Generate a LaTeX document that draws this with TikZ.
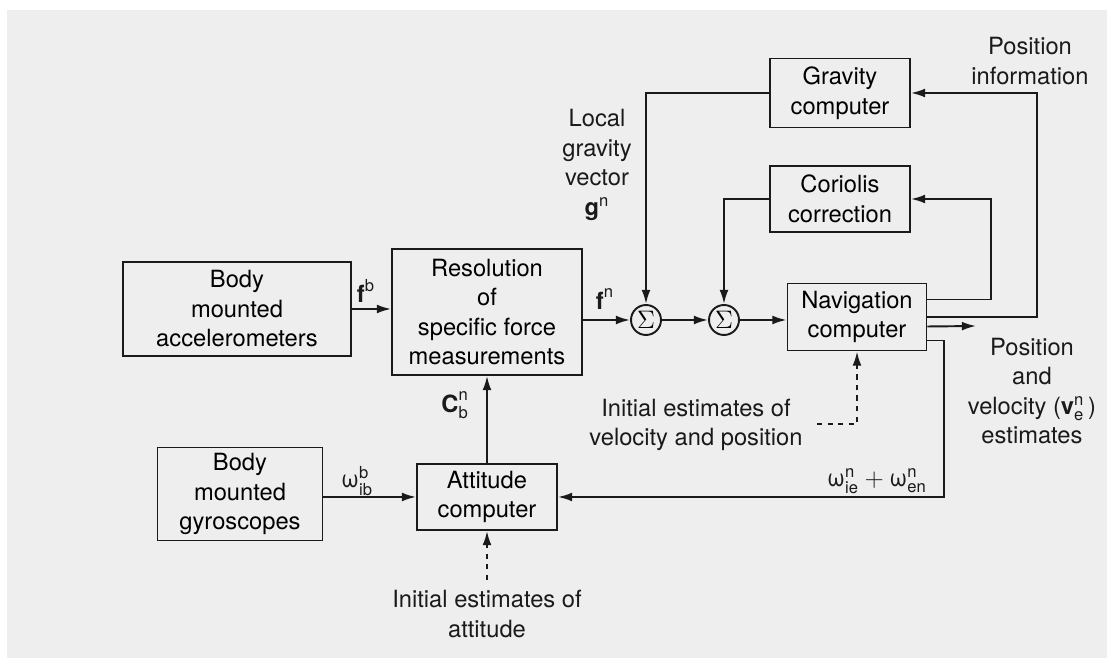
\documentclass[tikz,border=0pt]{standalone}
\usepackage{fontspec}
\usepackage{amsmath}
\setmainfont{TeX Gyre Heros}
\usetikzlibrary{arrows.meta}
\definecolor{paper}{HTML}{EEEEEE}
\definecolor{ink}{HTML}{1A1A1A}
\tikzset{
    >={Latex[length=8pt,width=5pt]},
    every edge/.style={draw,->,ink}
}

\begin{document}
\begin{tikzpicture}[x=0.02cm,y=-0.02cm,line width=1.1pt,
                    font=\fontsize{13.5}{16.8}\selectfont,
                    block/.style={draw=ink,rectangle,align=center,inner sep=2pt},
                    sum/.style={draw=ink,circle,minimum size=0.6cm,inner sep=0pt},
                    txt/.style={align=center,text=ink}]

% Paper
\useasboundingbox (0,0) rectangle (1107,658);
\fill[paper] (7,10) rectangle (1107,658);

% Blocks
\node[block,minimum width=4.56cm,minimum height=1.88cm] (acc) at (237,309) {Body\\mounted\\accelerometers};
\node[block,minimum width=3.80cm,minimum height=2.52cm] (res) at (487,312) {Resolution\\of\\specific force\\measurements};
\node[block,minimum width=2.80cm,minimum height=1.38cm] (grav) at (840,93) {Gravity\\computer};
\node[block,minimum width=2.80cm,minimum height=1.32cm] (cor) at (840,199) {Coriolis\\correction};
\node[block,minimum width=2.78cm,minimum height=1.34cm] (nav) at (857,317) {Navigation\\computer};
\node[block,minimum width=2.80cm,minimum height=1.32cm] (att) at (487,497) {Attitude\\computer};
\node[block,minimum width=3.30cm,minimum height=1.86cm] (gyro) at (240,494) {Body\\mounted\\gyroscopes};
\node[sum] (s1) at (646,320) {$\Sigma$};
\node[sum] (s2) at (724,320) {$\Sigma$};

% Free ends and corners
\coordinate (gravx) at (1037,93);
\coordinate (corx) at (991,199);
\coordinate (attx) at (944,497);
\coordinate (out) at (976,326);
\coordinate (navinit) at (817,424);
\coordinate (attinit) at (487,580);

% Labels
\node[txt] (fb) at (366,291) {$\textbf{f}^{\text{b}}$};
\node[txt] (fn) at (605,299) {$\textbf{f}^{\text{n}}$};
\node[txt] (cbn) at (455,405) {$\textbf{C}^{\text{n}}_{\text{b}}$};
\node[txt] (wib) at (357,481) {$\text{ω}^{\text{b}}_{\text{ib}}$};
\node[txt] (wnav) at (877,481) {$\text{ω}^{\text{n}}_{\text{ie}}+\text{ω}^{\text{n}}_{\text{en}}$};
\node[txt] (gn) at (597,165) {Local\\gravity\\vector\\$\textbf{g}^{\text{n}}$};
\node[txt] (posinfo) at (1030,61) {Position\\information};
\node[txt] (posvel) at (1032,391) {Position\\and\\velocity ($\textbf{v}^{\text{n}}_{\text{e}}$\,)\\estimates};
\node[txt] (navtxt) at (696,425) {Initial estimates of\\velocity and position};
\node[txt] (atttxt) at (487,614) {Initial estimates of\\attitude};

% Connections
\path (acc.east) edge (acc.east -| res.west);
\path (res.east |- s1) edge (s1);
\path (s1) edge (s2);
\path (s2) edge (s2 -| nav.west);
\draw[->,ink] (grav.west) -| (s1.north);
\draw[->,ink] (cor.west) -| (s2.north);
\draw[->,ink] (nav.east) -| (gravx) -- (grav.east);
\draw[->,ink] ([yshift=0.35cm]nav.east) -| (corx) -- (cor.east);
\draw[->,ink] ([yshift=-0.19cm]nav.east) -- (out);
\draw[->,ink] ([yshift=-0.47cm]nav.east) -| (attx) -- (att.east);
\path (gyro.east |- att) edge (att.west);
\path (att.north) edge (res.south);
\draw[->,ink,dashed] (navinit) -| (nav.south);
\draw[->,ink,dashed] (attinit) -- (att.south);

\end{tikzpicture}
\end{document}
